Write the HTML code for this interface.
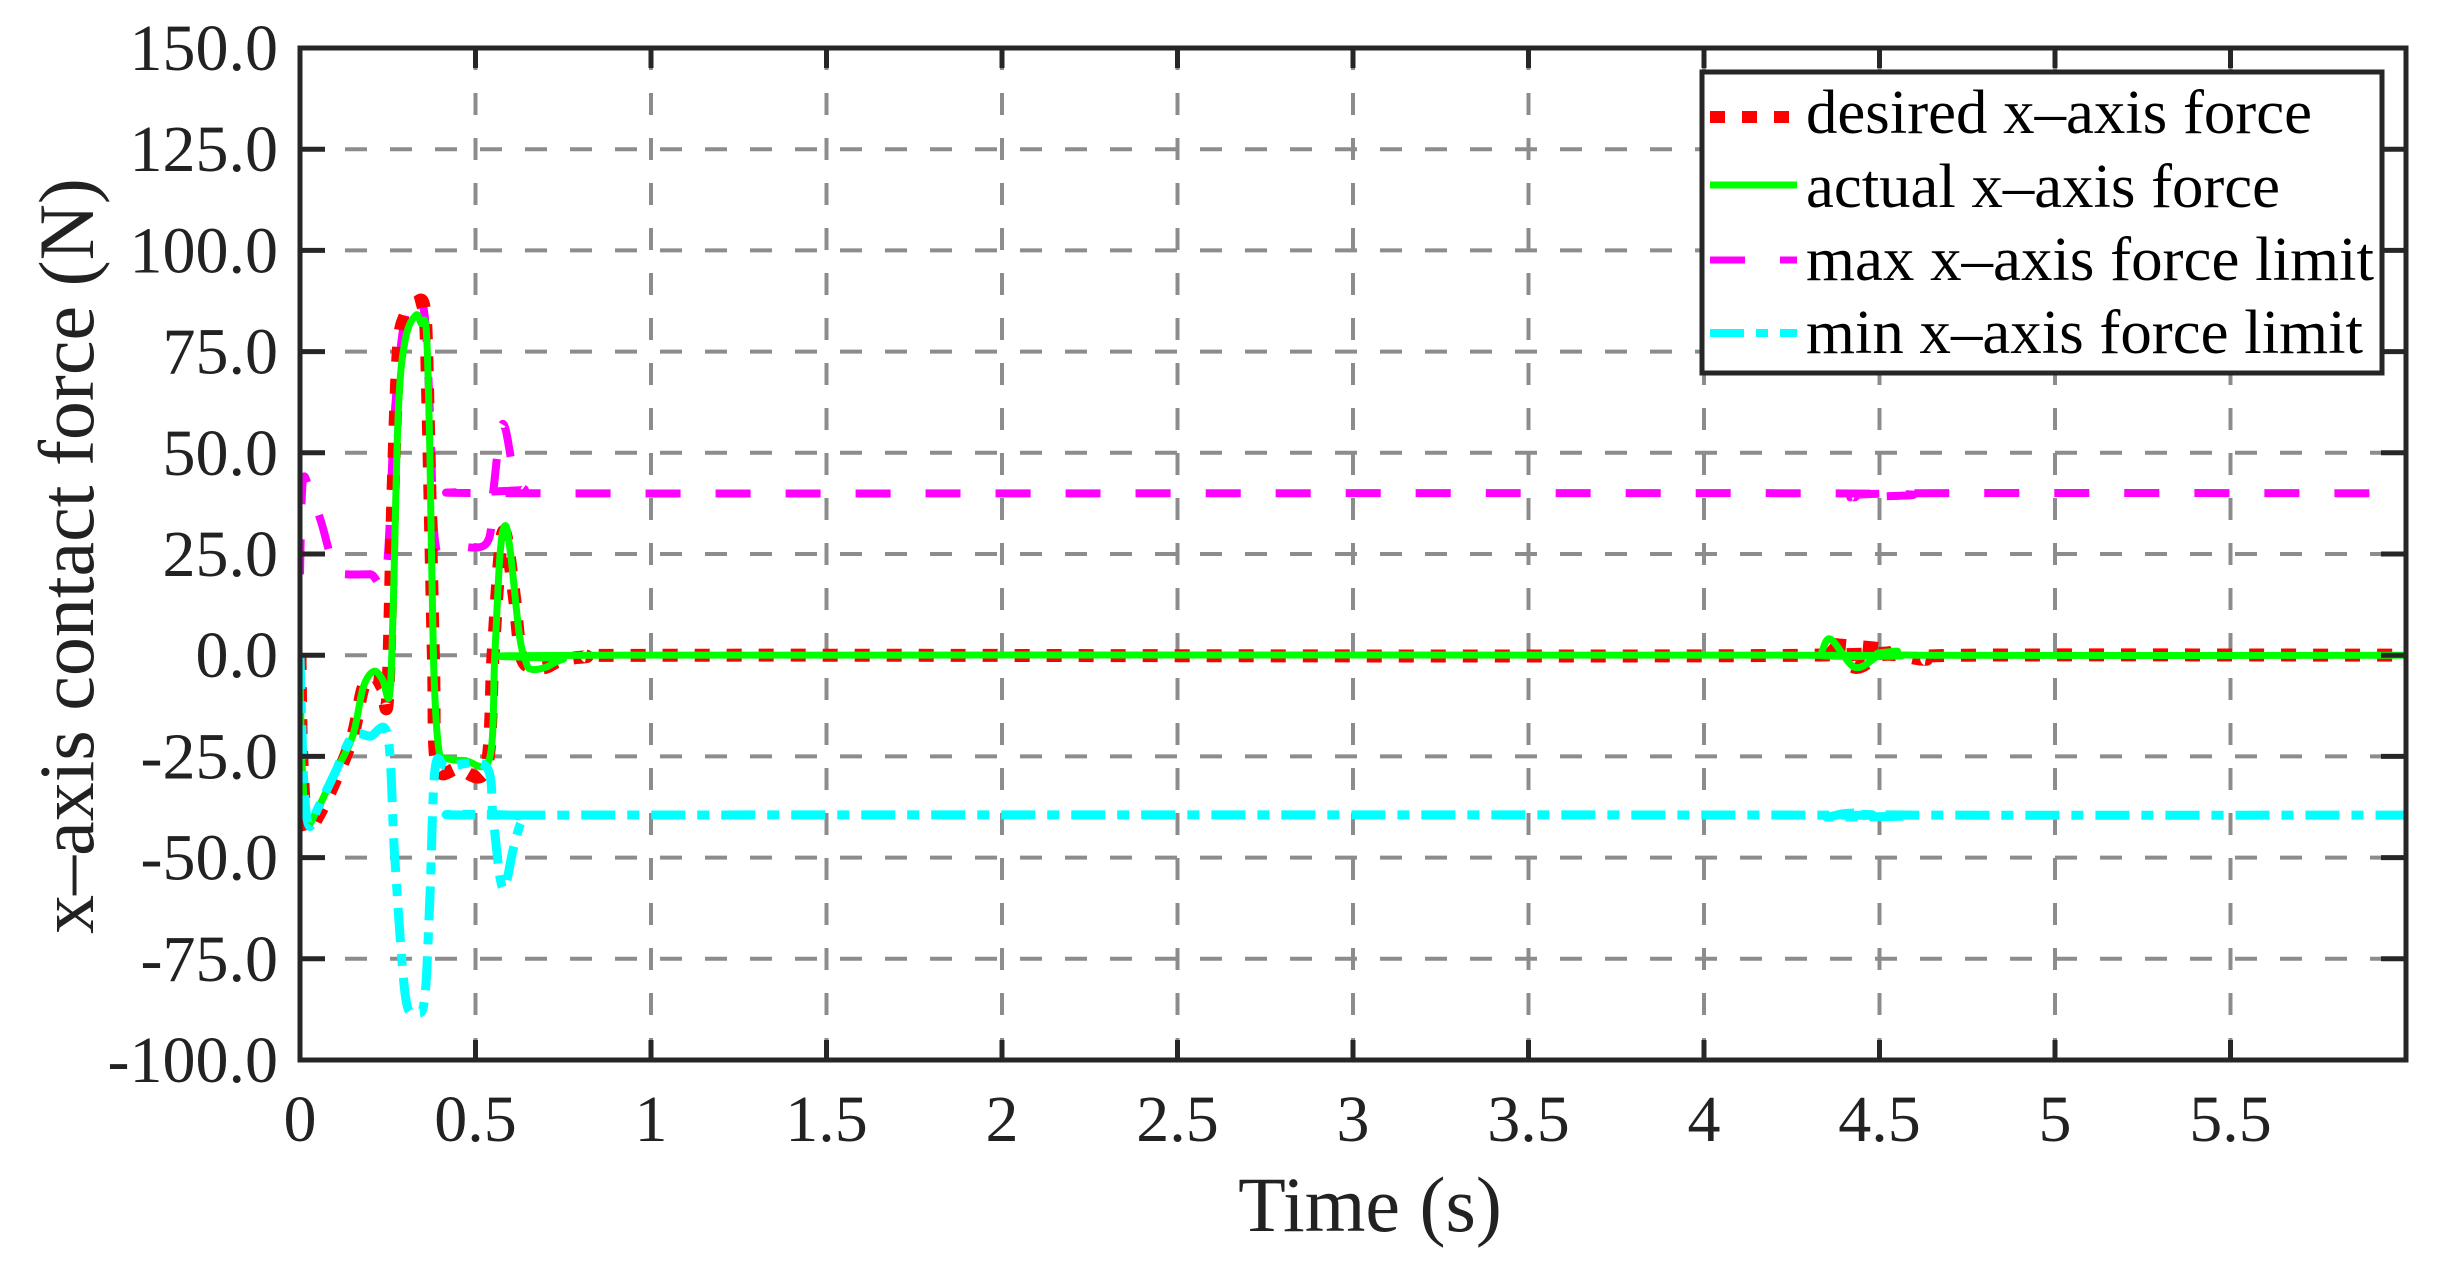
<!DOCTYPE html>
<html><head><meta charset="utf-8"><style>
html,body{margin:0;padding:0;background:#fff;}
svg{display:block;font-family:"Liberation Serif",serif;}
</style></head><body>
<svg id="s" width="2460" height="1278" xmlns="http://www.w3.org/2000/svg">
<defs><clipPath id="cp"><rect x="300" y="48" width="2106" height="1012"/></clipPath></defs>
<rect width="2460" height="1278" fill="#fff"/>
<g id="grid" stroke="#8c8c8c" stroke-width="4" stroke-dasharray="22,23"></g>
<g id="data" fill="none" stroke-linejoin="round" clip-path="url(#cp)"></g>
<g id="axes"></g>
<g font-size="66" fill="#222" text-anchor="end" id="ylab"></g>
<g font-size="66" fill="#222" text-anchor="middle" id="xlab"></g>
<text x="1370" y="1231" font-size="78" text-anchor="middle" fill="#222">Time (s)</text>
<text transform="translate(93,556) rotate(-90)" font-size="78" text-anchor="middle" fill="#222">x–axis contact force (N)</text>
<g id="legend">
<rect x="1702" y="72" width="680" height="301" fill="#fff" stroke="#262626" stroke-width="5"/>
<line x1="1710" y1="117" x2="1797" y2="117" stroke="#f00" stroke-width="12" stroke-dasharray="15,17"/>
<line x1="1710" y1="185" x2="1797" y2="185" stroke="#0f0" stroke-width="7"/>
<line x1="1710" y1="260" x2="1797" y2="260" stroke="#f0f" stroke-width="7" stroke-dasharray="35,35"/>
<line x1="1710" y1="333" x2="1797" y2="333" stroke="#0ff" stroke-width="8" stroke-dasharray="34,12,12,12"/>
<g font-size="62" fill="#000">
<text x="1806" y="133" textLength="506" lengthAdjust="spacingAndGlyphs">desired x–axis force</text>
<text x="1806" y="207" textLength="474" lengthAdjust="spacingAndGlyphs">actual x–axis force</text>
<text x="1806" y="280" textLength="568" lengthAdjust="spacingAndGlyphs">max x–axis force limit</text>
<text x="1806" y="353" textLength="557" lengthAdjust="spacingAndGlyphs">min x–axis force limit</text>
</g></g>
</svg>
<script>
const L=300,R=2406,T=48,B=1060,SX=351;
const X=t=>L+SX*t, Y=v=>T+(150-v)*(B-T)/250;
const ns="http://www.w3.org/2000/svg";
function el(p,tag,a,txt){const e=document.createElementNS(ns,tag);for(const k in a)e.setAttribute(k,a[k]);if(txt!==undefined)e.textContent=txt;document.getElementById(p).appendChild(e);return e;}
for(let v=-75;v<=125;v+=25) el("grid","line",{x1:L,x2:R,y1:Y(v),y2:Y(v)});
for(let t=0.5;t<6;t+=0.5) el("grid","line",{x1:X(t),x2:X(t),y1:T,y2:B});
const ylabels=["150.0","125.0","100.0","75.0","50.0","25.0","0.0","-25.0","-50.0","-75.0","-100.0"];
ylabels.forEach((s,i)=>el("ylab","text",{x:278,y:Y(150-25*i)+22},s));
["0","0.5","1","1.5","2","2.5","3","3.5","4","4.5","5","5.5"].forEach((s,i)=>el("xlab","text",{x:X(i*0.5),y:1141},s));
function path(pts,attrs){
  const P=pts.map(p=>[X(p[0]),Y(p[1])]);
  let d="M"+P[0][0]+","+P[0][1];
  for(let i=0;i<P.length-1;i++){
    const p0=P[Math.max(0,i-1)],p1=P[i],p2=P[i+1],p3=P[Math.min(P.length-1,i+2)];
    const c1=[p1[0]+(p2[0]-p0[0])/6,p1[1]+(p2[1]-p0[1])/6];
    const c2=[p2[0]-(p3[0]-p1[0])/6,p2[1]-(p3[1]-p1[1])/6];
    d+=`C${c1[0]},${c1[1]} ${c2[0]},${c2[1]} ${p2[0]},${p2[1]}`;
  }
  attrs.d=d; el("data","path",attrs);
}
const mag=[[0,20],[0.008,43],[0.03,40],[0.06,33],[0.1,21],[0.13,20],[0.2,20],[0.245,20],[0.27,60],[0.3,84],[0.33,88],[0.355,84],[0.37,60],[0.385,28],[0.42,27.5],[0.53,27.5],[0.55,40],[0.57,55],[0.585,56],[0.61,45],[0.64,41],[0.7,40],[4.3,40],[4.42,39],[4.6,40],[6.05,40]];
const cy=[[0,0],[0.01,-30],[0.025,-42],[0.05,-38],[0.1,-29],[0.15,-20],[0.2,-20],[0.25,-20],[0.27,-50],[0.3,-84],[0.33,-88],[0.355,-85],[0.37,-60],[0.385,-28],[0.42,-27.5],[0.53,-27.5],[0.55,-40],[0.57,-55],[0.585,-57],[0.61,-47],[0.64,-40],[0.7,-39.5],[4.3,-39.5],[4.35,-40],[4.42,-39],[4.6,-39.5],[6.05,-39.5]];
const red=[[0,0],[0.005,-25],[0.02,-43],[0.05,-40],[0.1,-31],[0.15,-20],[0.18,-8],[0.21,-5],[0.235,-8],[0.25,-10],[0.265,40],[0.28,75],[0.3,84],[0.33,87],[0.355,85],[0.365,60],[0.38,0],[0.39,-27],[0.45,-28],[0.53,-28],[0.55,0],[0.57,25],[0.585,30],[0.61,15],[0.63,0],[0.66,-3],[0.7,-3],[0.8,-0.5],[1.2,0],[4.3,0],[4.34,3],[4.36,3],[4.43,-3],[4.5,0],[4.56,0],[4.63,-1],[4.75,0],[6.05,0]];
const grn=[[0,0],[0.005,-25],[0.02,-41],[0.05,-38],[0.1,-29],[0.15,-20],[0.18,-8],[0.21,-4],[0.235,-6],[0.255,-10],[0.265,10],[0.28,60],[0.3,78],[0.33,84],[0.345,82],[0.36,80],[0.37,50],[0.38,0],[0.395,-23],[0.42,-25.5],[0.47,-26],[0.54,-25.5],[0.555,0],[0.57,25],[0.585,32],[0.6,25],[0.625,5],[0.645,-2],[0.66,-3.5],[0.7,-3],[0.75,-1],[0.85,0],[4.3,0],[4.33,0],[4.36,4],[4.43,-3],[4.5,0],[4.55,1],[4.62,0],[6.05,0]];
path(mag,{stroke:"#f0f","stroke-width":8,"stroke-dasharray":"35,35"});
path(red,{stroke:"#f00","stroke-width":13,"stroke-dasharray":"15,17"});
path(grn,{stroke:"#0f0","stroke-width":7});
path(cy,{stroke:"#0ff","stroke-width":9,"stroke-dasharray":"34,12,12,12"});
el("axes","rect",{x:L,y:T,width:R-L,height:B-T,fill:"none",stroke:"#262626","stroke-width":5});
for(let v=-75;v<=125;v+=25){el("axes","line",{x1:L,x2:L+25,y1:Y(v),y2:Y(v),stroke:"#262626","stroke-width":5});el("axes","line",{x1:R-25,x2:R,y1:Y(v),y2:Y(v),stroke:"#262626","stroke-width":5});}
for(let t=0.5;t<6;t+=0.5){el("axes","line",{x1:X(t),x2:X(t),y1:B,y2:B-20,stroke:"#262626","stroke-width":5});el("axes","line",{x1:X(t),x2:X(t),y1:T,y2:T+20,stroke:"#262626","stroke-width":5});}
document.getElementById("s").appendChild(document.getElementById("legend"));
</script>
</body></html>
